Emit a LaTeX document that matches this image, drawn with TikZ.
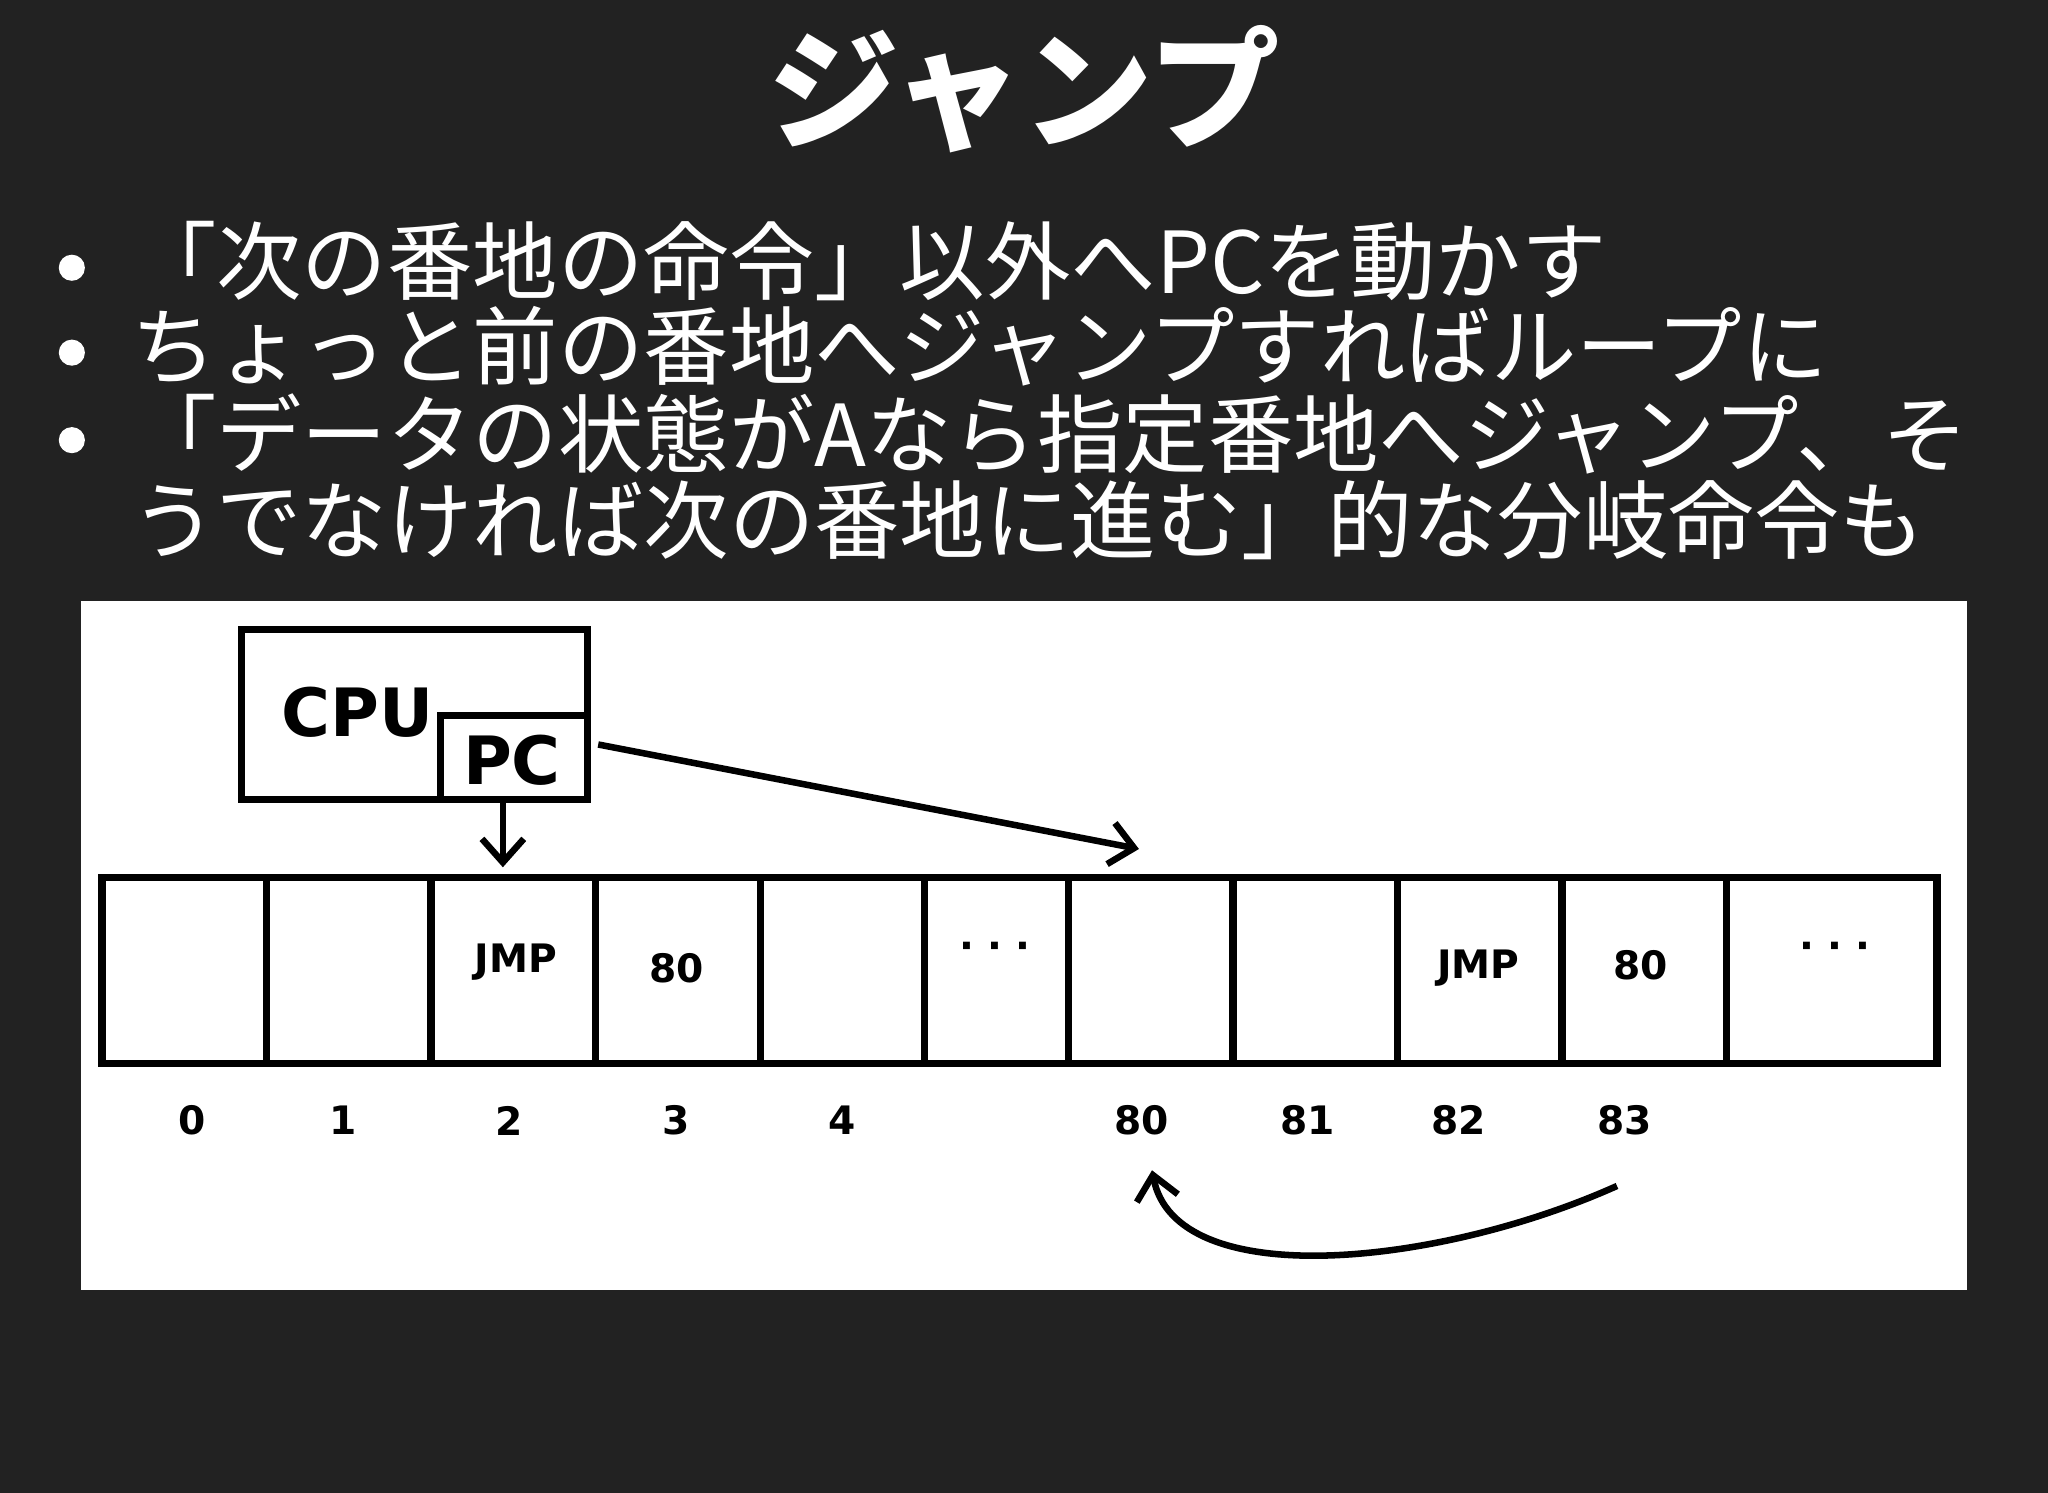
\documentclass[tikz,border=0pt]{standalone}
\usepackage{fontspec}
\setmainfont{DejaVu Sans}
\newfontfamily\cjk{Noto Sans CJK JP}
\usetikzlibrary{arrows.meta}
\begin{document}
\begin{tikzpicture}[x=0.5pt,y=-0.5pt,
  cell/.style={line width=2.8pt},
  lbl/.style={font=\bfseries\fontsize{15}{15}\selectfont},
  idx/.style={font=\bfseries\fontsize{15}{15}\selectfont},
  bl/.style={anchor=west,text=white,inner sep=0pt,font=\cjk\fontsize{32.7}{32.7}\selectfont},
  arr/.style={line width=2.5pt,-{Straight Barb[length=9pt,width=16pt,line width=2.5pt]}}]
\fill[fill={rgb,255:red,34;green,34;blue,34}] (0,0) rectangle (1568,1143);
\useasboundingbox (0,0) rectangle (1568,1143);
\node[text=white,font=\cjk\bfseries\fontsize{50}{50}\selectfont] (title) at (784,68) {ジャンプ};
\foreach \y/\n in {205/b1,270/b2,337/b3}{\fill[white] (55,\y) circle (10) coordinate (\n);}
\node[bl] (l1) at (100,200) {「次の番地の命令」以外へPCを動かす};
\node[bl] (l2) at (100,265) {ちょっと前の番地へジャンプすればループに};
\node[bl] (l3) at (100,332) {「データの状態がAなら指定番地へジャンプ、そ};
\node[bl] (l4) at (100,398) {うでなければ次の番地に進む」的な分岐命令も};
\fill[white] (62,460) rectangle (1506,988);
\draw[cell] (185,482) rectangle (450,612);
\draw[cell,fill=white] (337,548) rectangle (450,612);
\node[font=\bfseries\fontsize{25.5}{25.5}\selectfont] (cpu) at (274,545) {CPU};
\node[font=\bfseries\fontsize{25.5}{25.5}\selectfont] (pc) at (392,582) {PC};
\draw[cell] (78,672) rectangle (1483,814);
\foreach \x in {204,330,456,582,708,818,944,1070,1196,1322}{\draw[cell] (\x,672) -- (\x,814);}
\node[lbl] (c2) at (395,737) {JMP};
\node[lbl] (c3) at (518,741) {80};
\node[lbl] (c5) at (762,728) {·\,\,·\,\,·};
\node[lbl] (c82) at (1132,741) {JMP};
\node[lbl] (c83) at (1256,739) {80};
\node[lbl] (cE) at (1405,728) {·\,\,·\,\,·};
\foreach \x/\t in {147/0,263/1,390/2,518/3,645/4,874/80,1001/81,1117/82,1244/83}{\node[idx] (i\t) at (\x,858) {\t};}
\coordinate (d1) at (385,614); \coordinate (d2) at (385,664);
\draw[arr] (d1) -- (d2);
\coordinate (a1) at (458,570); \coordinate (a2) at (872,650);
\draw[arr] (a1) -- (a2);
\coordinate (r1) at (1238,908); \coordinate (r2) at (882,896);
\draw[arr] (r1) .. controls (1100,970) and (900,990) .. (r2);
\end{tikzpicture}
\end{document}
